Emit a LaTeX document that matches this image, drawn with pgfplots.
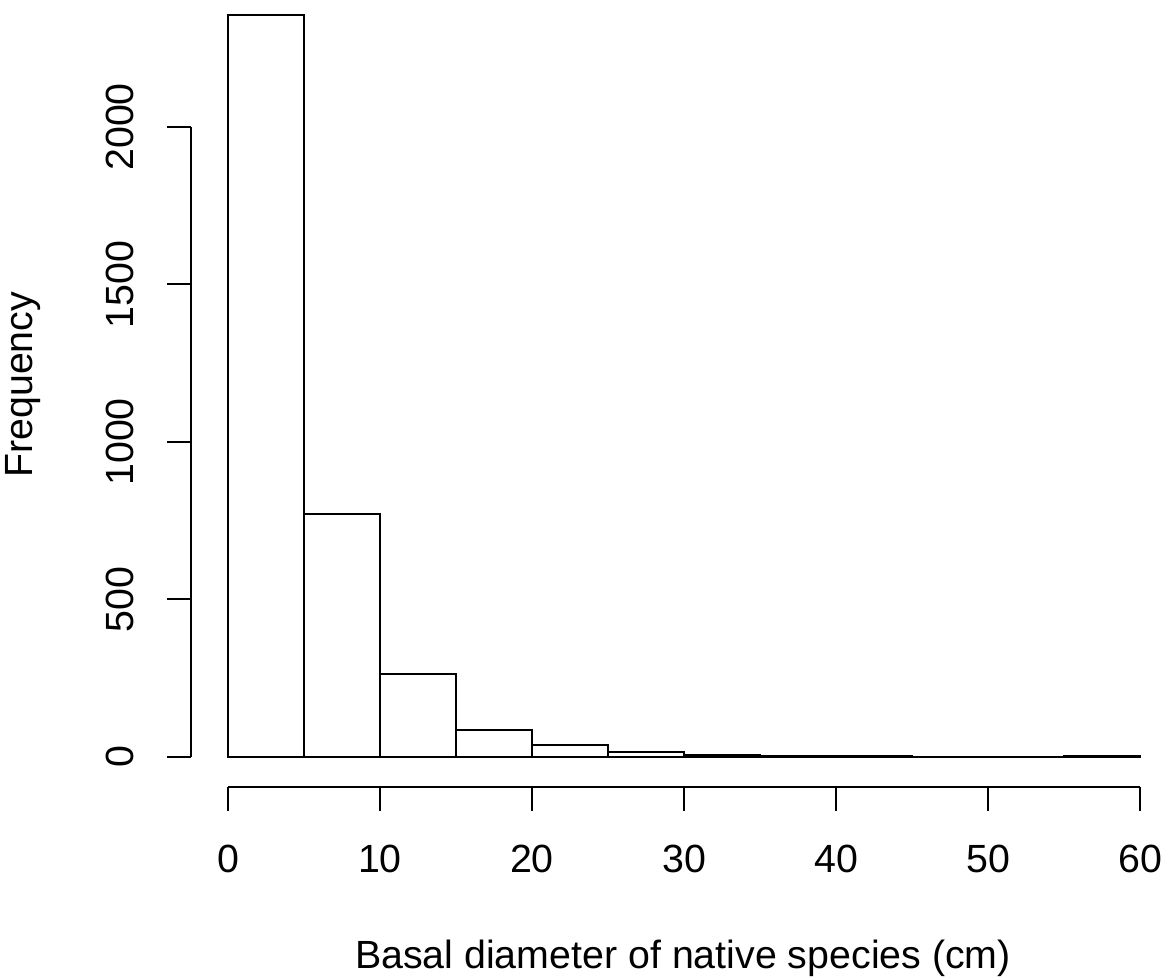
\documentclass[border=0pt]{standalone}
\usepackage{fontspec}
\setmainfont{Liberation Sans}
\usepackage{pgfplots}
\pgfplotsset{compat=1.18}
\begin{document}
\begin{tikzpicture}
\begin{axis}[
  at={(0,0)}, anchor=south west,
  scale only axis, width=295.5pt, height=236pt,
  xmin=-2.4, xmax=62.4, ymin=-94.3, ymax=2403,
  axis line style={draw=none},
  clip=false,
  xtick={0,10,...,60}, ytick={0,500,...,2000},
  xtick pos=left, ytick pos=left,
  tick align=outside, major tick length=7.2pt,
  tick style={black, line width=0.6pt},
  /pgf/number format/assume math mode=true,
  scaled y ticks=false,
  /pgf/number format/set thousands separator={},
  yticklabel style={rotate=90, anchor=south, inner sep=0pt},
  xticklabel style={anchor=north, inner sep=0pt},
  xticklabel shift=10pt, yticklabel shift=9.9pt,
  font=\fontsize{11.8}{14}\selectfont,
  xlabel={Basal diameter of native species (cm)},
  ylabel={Frequency},
  xlabel style={at={(axis description cs:0.499,-0.2305)}, anchor=base},
  ylabel style={at={(axis description cs:-0.161,0.511)}, anchor=base},
]
\addplot[ybar interval, fill=white, draw=black, line width=0.6pt] coordinates {
  (0,2355) (5,771) (10,263) (15,86) (20,39) (25,16) (30,7) (35,3) (40,2) (45,1) (50,1) (55,3) (60,0)
};
\draw[line width=0.6pt] (axis cs:0,-94.3) -- (axis cs:60,-94.3);
\draw[line width=0.6pt] (axis cs:-2.4,0) -- (axis cs:-2.4,2000);
\end{axis}
\pgfresetboundingbox
\useasboundingbox (-57.45pt,-57.39pt) rectangle (292.95pt,236.01pt);
\end{tikzpicture}
\end{document}
